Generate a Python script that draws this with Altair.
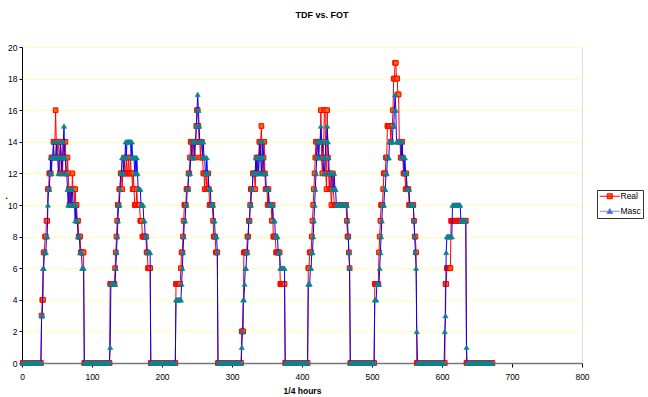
import altair as alt
import pandas as pd

# ---------------- data ----------------
quarter_hours = list(range(1, 673))          # 7 days x 96 quarter hours

# each entry: first quarter hour of the daily burst -> readings (0 elsewhere)
real_day1 = [3,4,4,7,7, 8,8,9,9,11, 11,12,12,12,13, 13,13,14,14,14, 16,14,13,14,14,
             13,12,14,13,13, 12,14,13,13,14, 12,12,13,12,11, 10,11,10,10,12, 11,11,10,11,10,
             10,9,9,8,8, 8,7,7,7,7, 7]
masc_day1 = [3,3,6,6,7, 7,7,8,8,10, 11,11,12,13,12, 13,13,14,13,13, 13,14,13,13,12,
             13,13,14,13,12, 13,14,15,13,13, 12,12,11,10,11, 11,10,10,11,11, 10,10,10,9,10,
             9,9,8,8,8, 7,7,7,6,6, 6]
real_day2 = [5,5,5,5,5,5,5, 6,7,8,9,10, 10,11,11,12,12, 11,12,12,13,12, 12,13,12,12,13,
             12,12,13,12,12, 11,12,11,10,10, 10,11,10,10,10, 10,9,9,9,8, 8,8,8,8,8,
             7,7,6,6,6, 6]
masc_day2 = [1,5,5,5,5,5,5,5, 6,7,8,9,10, 10,11,12,12,13, 13,12,13,13,14, 13,14,14,14,14,
             14,14,13,14,13, 13,13,12,13,12, 13,12,11,11,11, 11,10,10,10,10, 9,9,8,8,8,
             7,7,7,7,7]
real_day3 = [5,5,5,5,5,5,5, 6,7,7, 8,9,10,10,10, 11,11,11,12,12, 13,14,14,13,14,
             14,14,13,14,15, 16,16,15,14,14, 13,14,14,13,12, 12,11,12,12,11, 11,12,11,10,10,
             10,10,10,9,8, 8,8,7,7,7]
masc_day3 = [4,4,4,4,4,4,4,4, 5,6, 7,8,9,9,10, 10,11,11,12,12, 12,13,13,14,14,
             14,13,14,14,15, 16,17,16,15,14, 14,14,14,13,14, 13,13,12,12,13, 12,12,11,11,11,
             10,10,10,10,9, 9,8,8,8,7]
real_day4 = [2,2,2,7,7, 7,7,7,8,8, 9,9,10,11,11, 11,12,12,12,11, 12,13,12,13,13,
             14,13,14,15,13, 12,13,14,12,11, 11,11,10,11,10, 10,10,10,9,10, 8,8,8,8,7,
             7,7,7,7,7, 5,5,5,5,5,5,5]
masc_day4 = [1,2,4,4,5, 6,6,7,7,8, 9,9,10,10,11, 11,12,12,12,12, 13,12,13,13,12,
             13,14,13,12,13, 14,13,12,12,12, 11,11,11,11,10, 10,10,10,10,10, 9,9,9,8,8,
             8,8,7,7,7, 6,6,6,6,6,6,6]
real_day5 = [6,6,7,7,7, 8,9,10,11,12, 13,14,13,14,14, 14,14,14,16,13, 12,13,14,16,16,
             12,11,16,13,12, 11,12,11,10,11, 12,11,10,10,10, 10,10,10,10,10, 10,10,10,10,10,
             10,10,10,10,10, 9,8,8,7,6]
masc_day5 = [5,5,5,6,6, 7,7,8,9,10, 11,12,13,14,14, 13,14,14,15,14, 14,13,12,12,13,
             14,14,15,14,13, 12,12,12,12,11, 11,11,12,11,11, 10,10,10,10,10, 10,10,10,10,10,
             10,10,10,10,10, 10,9,8,7,6]
real_day6 = [5,5,5,5,5, 5,7,8,9,10, 10,10,11,12,12, 12,13,13,15,15, 15,15,15,14,15,
             15,16,18,18,19, 19,18,18,17,17, 14,14,13,13,14, 13,12,12,12,11, 12,11,11,11,10,
             10,10,10,10,10, 10,9,8,8,7]
masc_day6 = [4,4,4,5,5, 5,5,6,7,8, 9,10,10,10,11, 11,12,12,13,13, 13,14,14,14,14,
             14,15,15,16,17, 16,14,14,14,14, 14,14,14,13,14, 13,13,12,13,12, 12,11,11,11,11,
             10,10,10,10,10, 10,9,8,7,6, 2]
real_day7 = [5,5,6,6,6,6,6,6, 9,9,9,9,9,9,9,9,9,9,9,9,9,9,9,9,9,9,9,9,9,9]
masc_day7 = [2,3,7,8,8,8,8,8,8,8,8, 10,10,10,10,10,10,10,10,10,10,10,10,
             9,9,9,9,9,9,9,9, 1]

real_starts = [28, 126, 220, 314, 409, 504, 605]
masc_starts = [28, 126, 220, 314, 409, 504, 604]
real_days = [real_day1, real_day2, real_day3, real_day4, real_day5, real_day6, real_day7]
masc_days = [masc_day1, masc_day2, masc_day3, masc_day4, masc_day5, masc_day6, masc_day7]

series_names = ["Real", "Masc"]
x_ticks = list(range(0, 801, 100))
y_ticks = list(range(0, 21, 2))


def build(starts, days):
    vals = [0] * len(quarter_hours)
    for start, seg in zip(starts, days):
        for i, v in enumerate(seg):
            vals[start - 1 + i] = v
    return vals


df = pd.DataFrame({
    "x": quarter_hours,
    "Real": build(real_starts, real_days),
    "Masc": build(masc_starts, masc_days),
})

FONT = "Liberation Sans"

x_enc = alt.X(
    "x:Q",
    scale=alt.Scale(domain=[0, 800], nice=False, zero=True),
    axis=alt.Axis(
        values=x_ticks, format="d", title="1/4 hours", grid=False,
        labelFont=FONT, labelFontSize=8.5, labelColor="#000000", labelPadding=5,
        tickSize=4, tickColor="#000000", domainColor="#777777", domainWidth=1.5,
        titleFont=FONT, titleFontSize=8.5, titleFontWeight="bold", titleColor="#000000",
        titlePadding=6, labelFlush=False,
    ),
)


def y_enc(field):
    return alt.Y(
        f"{field}:Q",
        scale=alt.Scale(domain=[0, 20], nice=False),
        axis=alt.Axis(
            values=y_ticks, title=".", grid=True, gridColor="#FFFFB0", gridWidth=1,
            labelFont=FONT, labelFontSize=8.5, labelColor="#000000", labelPadding=2,
            tickSize=3, tickColor="#000000", domainColor="#000000", domainWidth=1,
            titleFont=FONT, titleFontSize=9, titleFontWeight="bold", titleColor="#000000",
            titleAngle=0, titleX=-16, titleY=153, titleAlign="center", titleBaseline="bottom",
        ),
    )


base = alt.Chart(df)

real_line = base.mark_line(color="#FF0000", strokeWidth=1).encode(x=x_enc, y=y_enc("Real"))
real_pts = base.mark_point(
    shape="square", filled=True, fill="#FF6600", stroke="#FF0000",
    strokeWidth=1, size=22, opacity=1,
).encode(x=x_enc, y=y_enc("Real"))
masc_line = base.mark_line(color="#0000FF", strokeWidth=1).encode(x=x_enc, y=y_enc("Masc"))
masc_pts = base.mark_point(
    shape="triangle-up", filled=True, fill="#108090", stroke="#108090",
    strokeWidth=0.5, size=28, opacity=1,
).encode(x=x_enc, y=y_enc("Masc"))

# legend-only layer (no marks drawn): line with marker symbols
path_real = "M-1.17,0H5.5M1.33,-0.83H3V0.83H1.33Z"
path_masc = "M-1.17,0H5.5M2.17,-0.95L3.17,0.75L1.17,0.75Z"
leg = alt.Legend(
    title=None, orient="none", legendX=575, legendY=143,
    symbolSize=36, symbolStrokeWidth=1, labelOffset=13,
    labelFont=FONT, labelFontSize=8.5, labelColor="#000000",
    padding=2, rowPadding=5, strokeColor="#333333", fillColor="#FFFFFF",
)
legend_df = pd.DataFrame({"series": series_names})
legend_layer = alt.Chart(legend_df).transform_filter("false").mark_point(
    filled=True, opacity=1
).encode(
    shape=alt.Shape("series:N", scale=alt.Scale(domain=series_names, range=[path_real, path_masc]), legend=leg),
    fill=alt.Fill("series:N", scale=alt.Scale(domain=series_names, range=["#FF6600", "#108090"]), legend=leg),
    stroke=alt.Stroke("series:N", scale=alt.Scale(domain=series_names, range=["#FF0000", "#8080FF"]), legend=leg),
)

chart = alt.layer(real_line, real_pts, masc_line, masc_pts, legend_layer).properties(
    width=560,
    height=316,
    padding={"left": 22, "top": 47, "right": 66, "bottom": 34},
    autosize=alt.AutoSizeParams(type="none"),
    title=alt.Title(
        "TDF vs. FOT", font=FONT, fontSize=9, fontWeight="bold", color="#000000",
        anchor="middle", dx=20, offset=23,
    ),
).configure_view(
    stroke="#A0A0A0", strokeWidth=1
).configure(background="#FFFFFF")

chart.save("out.html", embed_options={"renderer": "svg", "actions": False})
